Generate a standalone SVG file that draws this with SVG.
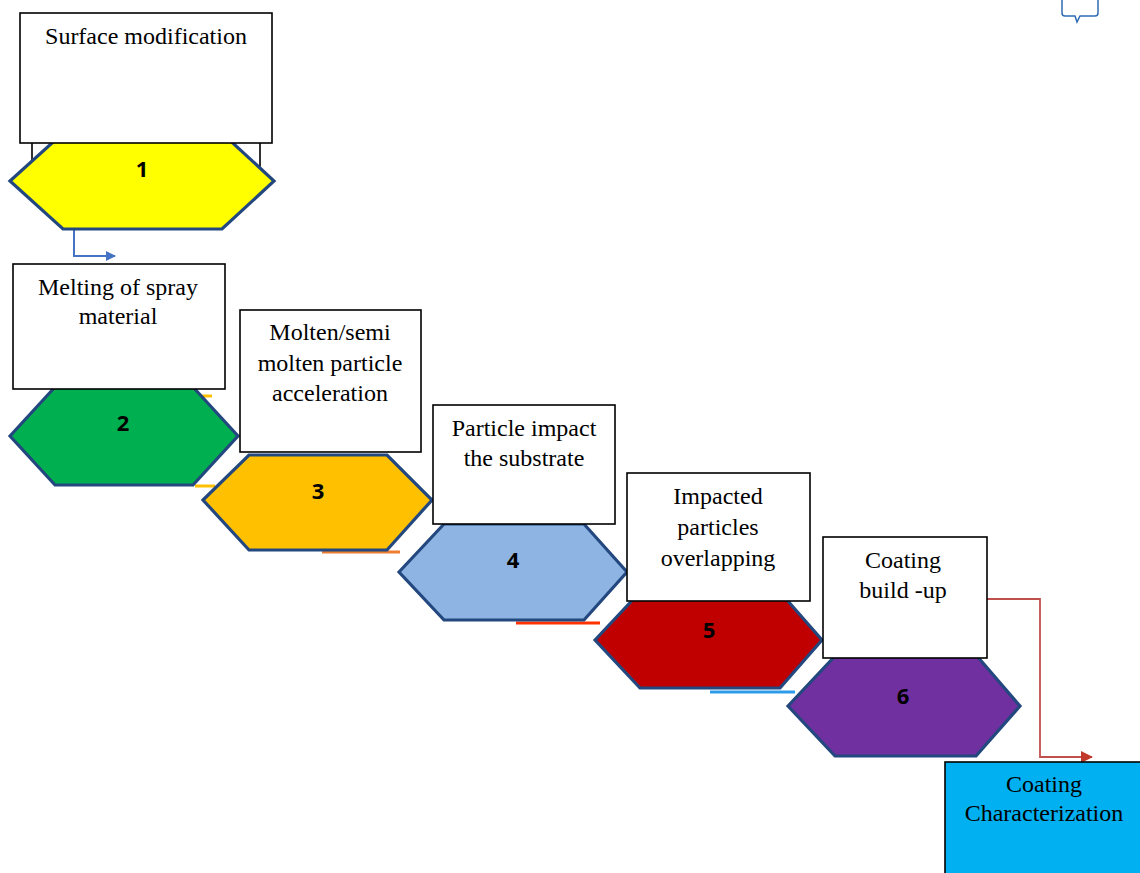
<svg xmlns="http://www.w3.org/2000/svg" width="1140" height="873" viewBox="0 0 1140 873">
<defs>
<style>
.box{fill:#fff;stroke:#000;stroke-width:1.6}
.hex{stroke:#23487F;stroke-width:3.2;stroke-linejoin:miter}
.t{font-family:"Liberation Serif","Times New Roman",serif;font-size:24px;fill:#000;text-anchor:middle}
.n{font-family:"Open Sans","Liberation Sans",sans-serif;font-weight:bold;font-size:22px;fill:#000;text-anchor:middle}
</style>
<marker id="ab" markerWidth="10" markerHeight="10" refX="9" refY="5" orient="auto" markerUnits="userSpaceOnUse"><path d="M0,0 L10,5 L0,10 Z" fill="#4472C4"/></marker>
<marker id="ar" markerWidth="12" markerHeight="12" refX="11" refY="6" orient="auto" markerUnits="userSpaceOnUse"><path d="M0,0 L12,6 L0,12 Z" fill="#C0392B"/></marker>
</defs>
<rect width="1140" height="873" fill="#fff"/>
<g id="connectors" fill="none">
<polyline points="74,229 74,256 115,256" stroke="#4472C4" stroke-width="2" marker-end="url(#ab)"/>
<polyline points="987,599 1040,599 1040,757 1092,757" stroke="#C0504D" stroke-width="1.8" marker-end="url(#ar)"/>
<line x1="195" y1="486" x2="215" y2="486" stroke="#FFC000" stroke-width="3"/>
<line x1="197" y1="396" x2="212" y2="396" stroke="#FFC000" stroke-width="3"/>
<line x1="322" y1="552" x2="400" y2="552" stroke="#ED7D31" stroke-width="3"/>
<line x1="516" y1="623" x2="600" y2="623" stroke="#FF3300" stroke-width="3"/>
<line x1="710" y1="692" x2="795" y2="692" stroke="#2E9BEA" stroke-width="3"/>
</g>
<g id="node1">
<rect x="32" y="128" width="228" height="38" fill="#fff" stroke="#000" stroke-width="1.6"/>
<polygon class="hex" fill="#FFFF00" points="10,181 63,133 222,133 274,181 222,229 63,229"/>
<text class="n" x="142" y="177">1</text>
<rect class="box" x="20" y="13" width="252" height="130"/>
<text class="t" x="146" y="44">Surface modification</text>
</g>
<g id="node2">
<polygon class="hex" fill="#00B050" points="10,436 55,387 193,387 238,436 193,485 55,485"/>
<text class="n" x="123" y="431">2</text>
<rect class="box" x="13" y="264" width="212" height="125"/>
<text class="t" x="118" y="295">Melting of spray</text>
<text class="t" x="118" y="324">material</text>
</g>
<g id="node3">
<polygon class="hex" fill="#FFC000" points="203,500 249,455 387,455 432,500 387,550 249,550"/>
<text class="n" x="318" y="499">3</text>
<rect class="box" x="240" y="310" width="181" height="142"/>
<text class="t" x="330" y="340">Molten/semi</text>
<text class="t" x="330" y="371">molten particle</text>
<text class="t" x="330" y="401">acceleration</text>
</g>
<g id="node4">
<polygon class="hex" fill="#8EB4E3" points="399,572 444,524 584,524 627,572 584,620 444,620"/>
<text class="n" x="513" y="568">4</text>
<rect class="box" x="433" y="405" width="182" height="119"/>
<text class="t" x="524" y="436">Particle impact</text>
<text class="t" x="524" y="466">the substrate</text>
</g>
<g id="node5">
<polygon class="hex" fill="#C00000" points="595,640 640,592 780,592 822,640 780,688 640,688"/>
<text class="n" x="709" y="638">5</text>
<rect class="box" x="627" y="473" width="183" height="128"/>
<text class="t" x="718" y="504">Impacted</text>
<text class="t" x="718" y="535">particles</text>
<text class="t" x="718" y="566">overlapping</text>
</g>
<g id="node6">
<polygon class="hex" fill="#7030A0" points="788,706 835,656 977,656 1020,706 976,756 835,756"/>
<text class="n" x="903" y="704">6</text>
<rect class="box" x="823" y="537" width="164" height="121"/>
<text class="t" x="903" y="568">Coating</text>
<text class="t" x="903" y="598">build -up</text>
</g>
<g id="node7">
<rect x="945" y="762" width="200" height="120" fill="#00B0F0" stroke="#000" stroke-width="1.6"/>
<text class="t" x="1044" y="792">Coating</text>
<text class="t" x="1044" y="821">Characterization</text>
</g>
<path d="M1062,0 V13 Q1062,16 1065,16 H1075 L1077,22 L1080,16 H1095 Q1098,16 1098,13 V0" fill="none" stroke="#2E6BB5" stroke-width="1.5"/>
</svg>
